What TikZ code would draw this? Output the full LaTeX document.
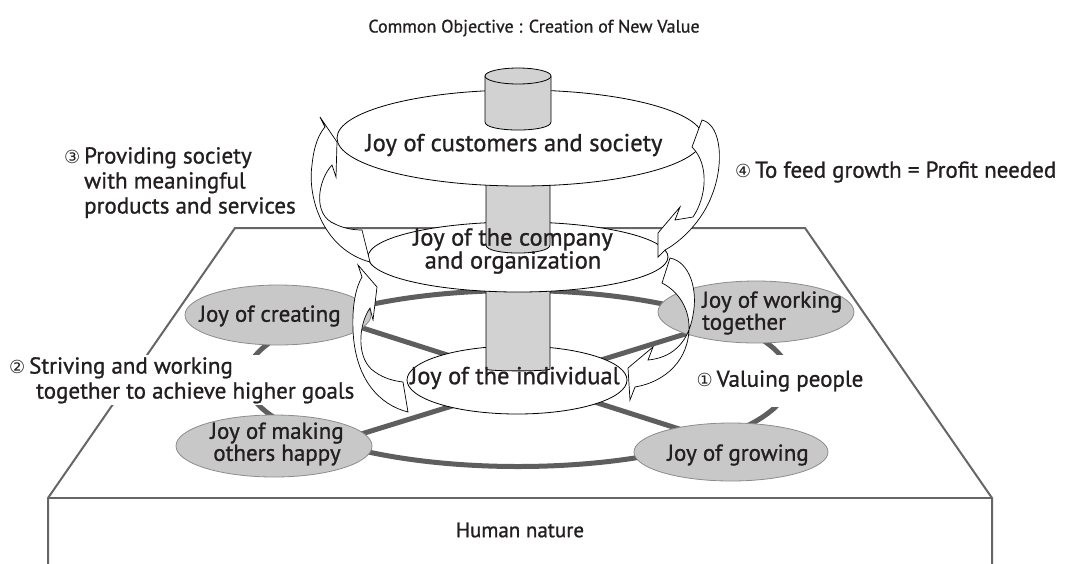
\documentclass[tikz,border=0pt]{standalone}
\usepackage{fontspec}
\setmainfont{PT Sans}[FakeBold=1]
\newfontfamily\symf{DejaVu Sans}
\usetikzlibrary{calc}
\definecolor{platgray}{HTML}{666666}
\definecolor{ringgray}{HTML}{5E5E5E}
\definecolor{joygray}{HTML}{C8C8C8}
\definecolor{edgegray}{HTML}{8C8C8C}
\definecolor{polegray}{HTML}{D2D2D3}
\definecolor{ink}{HTML}{231F20}
\newcommand{\cnum}[1]{{\symf\fontsize{18}{20}\selectfont #1}}
\begin{document}
\begin{tikzpicture}[x=1pt,y=-1pt,
  plat/.style={draw=platgray,line width=2pt},
  ringline/.style={draw=ringgray,line width=5pt},
  outerjoy/.style={fill=joygray,draw=edgegray,line width=0.8pt},
  innerjoy/.style={fill=white,draw=black,line width=0.8pt},
  polefill/.style={fill=polegray},
  poleedge/.style={draw=black,line width=0.8pt},
  bigtext/.style={font=\fontsize{24.5}{23}\selectfont,text=ink,align=center,inner sep=0pt},
  midtext/.style={font=\fontsize{23}{22}\selectfont,text=ink,align=center,inner sep=0pt},
  notetext/.style={font=\fontsize{23}{25}\selectfont,text=ink,align=left,inner sep=0pt},
  ribbon/.style={fill=white,draw=black,line width=0.7pt,line join=miter}
]
\useasboundingbox (0,0) rectangle (1071,563);

% platform
\coordinate (pTL) at (235,228);
\coordinate (pTR) at (805,228);
\coordinate (pBL) at (48,498);
\coordinate (pBR) at (992,498);
\coordinate (pDL) at (48,566);
\coordinate (pDR) at (992,566);
\draw[plat] (pDL) -- (pBL) -- (pTL) -- (pTR) -- (pBR) -- (pDR);
\draw[plat] (pBL) -- (pBR);

% ring and spokes
\draw[ringline] (518,378.5) ellipse [x radius=272pt, y radius=88pt];
\coordinate (sCre) at (300,308);
\coordinate (sGro) at (720,442);
\coordinate (sMak) at (290,456);
\coordinate (sWor) at (750,314);
\draw[ringline] (sCre) -- (sGro);
\draw[ringline] (sMak) -- (sWor);

% outer joys
\draw[outerjoy] (278,315) ellipse [x radius=93pt, y radius=30pt];
\node[midtext] (creating) at (270,316) {Joy of creating};
\draw[outerjoy] (274,446) ellipse [x radius=98pt, y radius=31pt];
\node[midtext] (making) at (277,444) {Joy of making\\others happy};
\draw[outerjoy] (756,312) ellipse [x radius=98pt, y radius=31pt];
\node[midtext,align=left,anchor=west] (working) at (702,313) {Joy of working\\together};
\draw[outerjoy] (731,452) ellipse [x radius=97pt, y radius=29pt];
\node[midtext] (growing) at (738,455) {Joy of growing};

% notes 1 and 2 (white backing hides ring and platform edge)
\node[notetext,fill=white,inner xsep=3pt,minimum height=52pt] (n1) at (780,381) {\cnum{①}\,Valuing people};
\node[notetext,fill=white,inner xsep=3pt,inner ysep=2pt,anchor=north west] (n2) at (6,355) {\cnum{②}\,Striving and working\\\hspace*{27pt}together to achieve higher goals};

% individual + pole segment 3
\draw[innerjoy] (517,380) ellipse [x radius=110pt, y radius=34pt];
\fill[polefill] (486,280) -- (486,369) .. controls (486,371.5) and (550,371.5) .. (550,369) -- (550,280) -- cycle;
\draw[poleedge] (486,280) -- (486,369) .. controls (486,371.5) and (550,371.5) .. (550,369) -- (550,280);

% company + pole segment 2
\draw[innerjoy] (518,257) ellipse [x radius=150pt, y radius=35pt];
\fill[polefill] (486,170) -- (486,245) .. controls (486,255.7) and (550,255.7) .. (550,245) -- (550,170) -- cycle;
\draw[poleedge] (486,170) -- (486,245) .. controls (486,255.7) and (550,255.7) .. (550,245) -- (550,170);

% customers + top cylinder
\draw[innerjoy] (520,138) ellipse [x radius=183pt, y radius=48pt];
\fill[polefill] (485,76) -- (485,122) .. controls (485,132.7) and (551,132.7) .. (551,122) -- (551,76) -- cycle;
\draw[poleedge] (485,76) -- (485,122) .. controls (485,132.7) and (551,132.7) .. (551,122) -- (551,76);
\draw[poleedge,polefill] (518,76) ellipse [x radius=33pt, y radius=8pt];

% central texts
\node[bigtext] (customers) at (514,145) {Joy of customers and society};
\node[bigtext] (company) at (513,251) {Joy of the company\\and organization};
\node[bigtext] (individual) at (515,378) {Joy of the individual};

% ribbon arrows
% (3) company -> customers, left
\draw[ribbon] (370,262) .. controls (325,250) and (307,200) .. (312,165)
  .. controls (314,145) and (319,134) .. (325,127)
  -- (320,117) -- (337,142) -- (336,177) -- (332,165)
  .. controls (318,180) and (312,215) .. (335,224)
  .. controls (345,229) and (355,230) .. (362,230) -- cycle;
% (4) customers -> company, right
\draw[ribbon] (702,120) .. controls (722,125) and (724,165) .. (712,195)
  .. controls (702,222) and (680,242) .. (665,250)
  -- (658,257) -- (658,233) -- (680,207) -- (675,220) -- (693,217)
  .. controls (706,198) and (710,165) .. (692,147) -- cycle;
% (2) individual -> company, left
\draw[ribbon] (408,412) .. controls (380,405) and (355,380) .. (353,330)
  .. controls (352,305) and (356,287) .. (362,277)
  -- (358,265) -- (377,287) -- (373,320) -- (370,308)
  .. controls (358,325) and (356,360) .. (375,372)
  .. controls (385,379) and (395,381) .. (403,382) -- cycle;
% (1) company -> individual, right
\draw[ribbon] (670,258) .. controls (690,262) and (698,290) .. (693,315)
  .. controls (688,345) and (670,358) .. (648,360)
  -- (653,347) -- (628,368) -- (630,400) -- (635,387)
  .. controls (665,382) and (690,360) .. (689,325)
  .. controls (688,305) and (676,290) .. (662,283) -- cycle;

% notes 3, 4, title, base
\node[notetext,anchor=north west] (n3) at (84,147) {\llap{\cnum{③}\,}Providing society\\with meaningful\\products and services};
\node[notetext,anchor=west] (n4) at (735,172) {\cnum{④}\,To feed growth = Profit needed};
\node[font=\fontsize{18}{20}\selectfont,text=ink,inner sep=0pt] (title) at (534,28) {Common Objective : Creation of New Value};
\node[font=\fontsize{21}{24}\selectfont,text=ink,inner sep=0pt] (base) at (520,530) {Human nature};
\end{tikzpicture}
\end{document}
